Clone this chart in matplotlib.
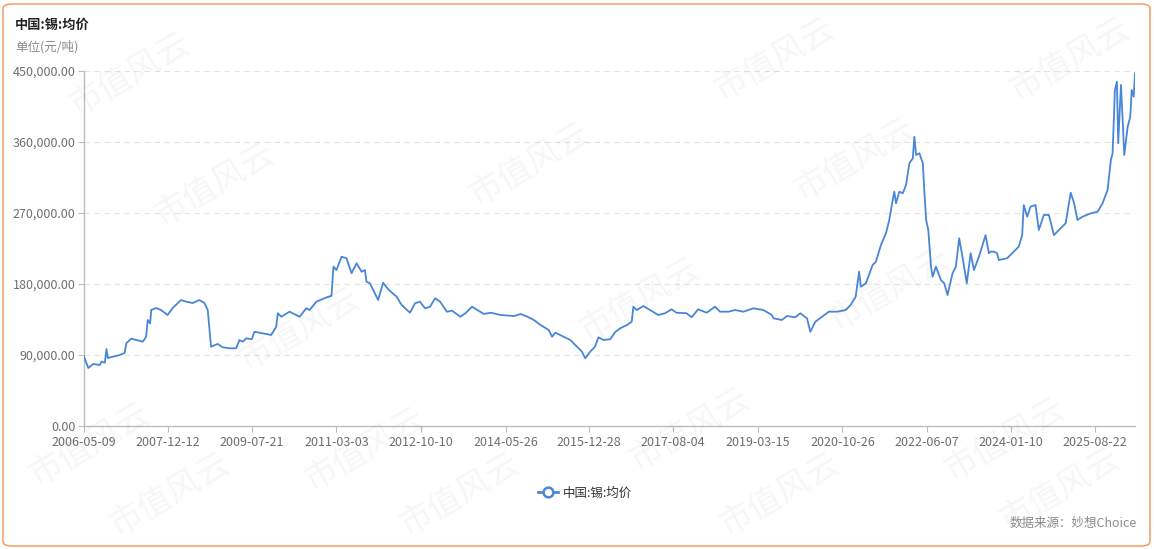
import matplotlib
matplotlib.use("Agg")
import matplotlib.pyplot as plt
import matplotlib.dates as mdates
from matplotlib.patches import FancyBboxPatch
from matplotlib.lines import Line2D
import pandas as pd

plt.rcParams["font.family"] = ["Noto Sans CJK SC", "DejaVu Sans"]

TITLE = "中国:锡:均价"
UNIT = "单位(元/吨)"
SERIES = "中国:锡:均价"
SOURCE = "数据来源：妙想Choice"
LINE_COLOR = "#4a86d6"

# (date, yuan/ton)
dates = [
    "2006-05-09", "2006-06-08", "2006-07-12", "2006-08-27", "2006-09-08", "2006-10-01",
    "2006-10-13", "2006-10-22", "2006-11-25", "2007-01-13", "2007-02-16", "2007-02-28",
    "2007-04-04", "2007-05-08", "2007-06-23", "2007-07-16", "2007-07-27", "2007-08-13",
    "2007-08-20", "2007-09-23", "2007-10-28", "2007-12-12",
    "2008-01-17", "2008-03-15", "2008-04-19", "2008-06-04", "2008-07-21", "2008-08-25",
    "2008-09-17", "2008-10-10", "2008-11-25", "2008-12-30", "2009-02-15", "2009-04-03",
    "2009-04-26", "2009-05-19", "2009-06-12", "2009-07-21",
    "2009-08-08", "2009-10-05", "2009-12-03", "2010-01-07", "2010-01-18", "2010-02-11",
    "2010-04-10", "2010-06-19", "2010-08-05", "2010-08-28", "2010-10-14", "2010-12-23",
    "2011-01-27", "2011-02-10", "2011-03-03",
    "2011-04-07", "2011-05-12", "2011-06-16", "2011-07-21", "2011-08-25", "2011-09-17",
    "2011-09-28", "2011-10-22", "2011-11-25", "2011-12-18", "2012-01-22", "2012-02-26",
    "2012-04-25", "2012-05-30", "2012-07-27", "2012-08-31", "2012-10-04",
    "2012-11-09", "2012-12-14", "2013-01-18", "2013-02-22", "2013-04-10", "2013-05-16",
    "2013-07-13", "2013-08-17", "2013-10-03", "2013-11-08", "2013-12-24", "2014-02-09",
    "2014-04-21",
    "2014-07-22", "2014-09-06", "2014-10-23", "2014-12-07", "2015-01-23", "2015-03-21",
    "2015-04-13", "2015-05-06", "2015-07-03", "2015-08-18", "2015-10-03", "2015-11-07",
    "2015-11-30", "2016-01-03",
    "2016-02-06", "2016-03-01", "2016-04-05", "2016-05-22", "2016-06-25", "2016-07-30",
    "2016-09-15", "2016-10-19", "2016-10-30", "2016-11-23", "2017-01-08", "2017-02-23",
    "2017-04-22", "2017-06-08", "2017-07-23",
    "2017-08-27", "2017-11-05", "2017-12-10", "2018-01-25", "2018-03-25", "2018-05-22",
    "2018-06-26", "2018-08-23", "2018-10-09", "2018-12-06", "2019-02-14",
    "2019-04-24", "2019-06-22", "2019-07-03", "2019-08-31", "2019-10-05", "2019-12-02",
    "2020-01-06", "2020-02-22", "2020-03-16", "2020-04-20", "2020-06-06", "2020-07-23",
    "2020-09-20",
    "2020-11-17", "2020-12-22", "2021-01-26", "2021-02-19", "2021-03-03", "2021-04-07",
    "2021-05-24", "2021-06-16", "2021-07-21", "2021-08-25", "2021-09-17", "2021-10-11",
    "2021-10-22", "2021-11-03", "2021-11-26", "2021-12-20", "2022-01-12", "2022-02-04",
    "2022-02-28", "2022-03-11", "2022-03-23", "2022-04-15", "2022-05-09", "2022-05-20",
    "2022-06-01",
    "2022-06-16", "2022-07-05", "2022-07-16", "2022-08-08", "2022-09-12", "2022-10-05",
    "2022-10-28", "2022-12-02", "2022-12-25", "2023-01-17", "2023-02-09", "2023-03-11",
    "2023-04-07", "2023-04-30", "2023-06-04", "2023-07-20", "2023-08-12", "2023-08-23",
    "2023-09-16", "2023-10-08", "2023-10-20", "2023-12-17",
    "2024-02-01", "2024-03-07", "2024-03-31", "2024-04-11", "2024-05-05", "2024-05-28",
    "2024-07-02", "2024-07-25", "2024-08-29", "2024-10-03", "2024-11-07", "2024-12-12",
    "2025-01-28", "2025-03-04", "2025-03-28", "2025-04-20", "2025-05-25", "2025-07-22",
    "2025-09-07", "2025-10-12", "2025-11-16", "2025-12-09", "2025-12-21", "2026-01-06",
    "2026-01-20", "2026-01-29", "2026-02-17", "2026-03-01", "2026-03-12", "2026-04-05",
    "2026-04-23", "2026-05-03", "2026-05-17", "2026-05-26",
]
prices = [
    88000, 73500, 78600, 77300, 81500, 80200,
    97600, 86200, 87800, 90000, 92500, 105000,
    110700, 109000, 106900, 113200, 134400, 130000,
    147000, 149600, 147000, 140700,
    149600, 159700, 157600, 155900, 159700, 155900,
    147000, 100500, 104000, 99800, 98500, 98500,
    109000, 106900, 111200, 109900,
    119500, 117500, 115400, 125900, 142900, 138500,
    144900, 138500, 149200, 147000, 157600, 163000,
    165000, 202000, 197700,
    214600, 212600, 193600, 206200, 195600, 197700,
    182900, 180900, 168200, 159700, 181600, 173300,
    163900, 153400, 143600, 155500, 157600,
    149200, 151200, 161900, 157600, 144900, 146200,
    138500, 142900, 151200, 147000, 142000, 143600,
    140700,
    139400, 142000, 138500, 134400, 128000, 121700,
    113200, 118300, 113200, 109000, 100500, 94200,
    85800, 94200,
    100500, 112400, 109000, 110000, 119000, 123800,
    128000, 132200, 151200, 147000, 152100, 147000,
    140700, 142900, 147900,
    143600, 142900, 137800, 147900, 143600, 151200,
    144900, 144900, 147000, 144900, 149200,
    147000, 140700, 136500, 134400, 139400, 137800,
    142900, 136500, 119500, 132200, 138500, 144900,
    144900,
    147000, 153400, 163900, 195600, 176600, 180900,
    204000, 208300, 229400, 244300, 261100, 286500,
    297000, 282300, 297000, 295000, 305500, 333000,
    339300, 366700, 343500, 345700, 333000, 295000,
    261100,
    248500, 202000, 189300, 202000, 185000, 180900,
    166000, 193600, 202000, 238000, 214600, 180900,
    219000, 197700, 214600, 242000, 219000, 221000,
    221000, 219000, 210400, 212600,
    221000, 227300, 242000, 280100, 265300, 278000,
    280100, 248500, 267500, 267500, 242000, 248500,
    257000, 295700, 282300, 261100, 265300, 269600,
    271600, 282300, 299200, 337200, 345700, 425900,
    436400, 358400, 432300, 387900, 343500, 379400,
    392000, 425900, 417400, 447100,
]
tick_labels = [
    "2006-05-09", "2007-12-12", "2009-07-21", "2011-03-03", "2012-10-10",
    "2014-05-26", "2015-12-28", "2017-08-04", "2019-03-15", "2020-10-26",
    "2022-06-07", "2024-01-10", "2025-08-22",
]
y_ticks = [0, 90000, 180000, 270000, 360000, 450000]

# watermark centres in pixels (kept inside the frame)
marks = [
    (130, 75), (215, 185), (530, 165), (775, 60), (855, 160), (1070, 60),
    (300, 330), (640, 300), (890, 290), (90, 445), (365, 450), (690, 430),
    (1005, 440), (170, 495), (460, 495), (780, 495), (1060, 490),
]

W, H = 1154, 549
x = pd.to_datetime(dates)
ticks = pd.to_datetime(tick_labels)

fig = plt.figure(figsize=(W / 100, H / 100), dpi=100)
ax = fig.add_axes([84 / W, 1 - 426 / H, (1135 - 84) / W, (426 - 71) / H])

ax.plot(x, prices, color=LINE_COLOR, lw=1.3, zorder=3)

ax.set_xlim(x[0], x[-1])
ax.set_ylim(0, 450000)
ax.set_yticks(y_ticks)
ax.set_yticklabels([f"{v:,.2f}" for v in y_ticks])
ax.set_xticks(ticks)
ax.set_xticklabels(tick_labels)

ax.grid(axis="y", color="#e3e3e3", lw=0.8, ls=(0, (5, 4)))
ax.set_axisbelow(True)
for side in ["top", "right"]:
    ax.spines[side].set_visible(False)
for side in ["left", "bottom"]:
    ax.spines[side].set_color("#bdbdbd")
    ax.spines[side].set_linewidth(1.0)
ax.tick_params(axis="both", colors="#bdbdbd", labelcolor="#6e6e6e",
               labelsize=9, length=4, width=0.8)
ax.tick_params(axis="y", pad=2)
ax.tick_params(axis="x", pad=3)

# title and unit
fig.text(15 / W, 1 - 25 / H, TITLE, fontsize=9.5, fontweight="bold",
         color="#222222", va="center", ha="left")
fig.text(15 / W, 1 - 47 / H, UNIT, fontsize=9, color="#8a8a8a",
         va="center", ha="left")

# legend
handle = Line2D([], [], color=LINE_COLOR, lw=2, marker="o", markersize=7,
                markerfacecolor="white", markeredgecolor=LINE_COLOR,
                markeredgewidth=1.8)
fig.legend([handle], [SERIES], loc="center", bbox_to_anchor=(585 / W, 1 - 493 / H),
           frameon=False, fontsize=9, handlelength=1.6, handletextpad=0.4,
           labelcolor="#333333")

fig.text(1137 / W, 1 - 523 / H, SOURCE, fontsize=9, color="#8a8a8a",
         va="center", ha="right")

# faint watermarks
for mx, my in marks:
    fig.text(mx / W, 1 - my / H, "市值风云", fontsize=24, color="#000000",
             alpha=0.035, rotation=30, ha="center", va="center",
             fontweight="light", zorder=0)

# rounded orange frame
frame = FancyBboxPatch((3 / W, 3 / H), (W - 7) / W, (H - 7) / H,
                       boxstyle="round,pad=0,rounding_size=0.008",
                       transform=fig.transFigure, fill=False,
                       edgecolor="#f0955a", lw=1.0)
fig.patches.append(frame)

fig.savefig("out.png", dpi=100)
